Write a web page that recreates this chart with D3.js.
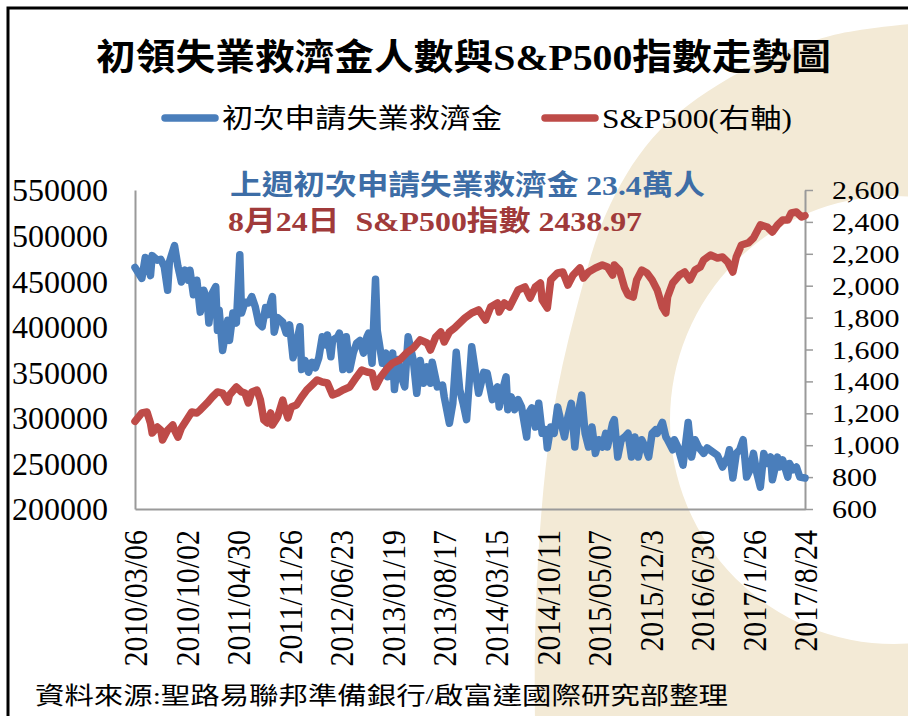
<!DOCTYPE html>
<html>
<head>
<meta charset="utf-8">
<script src="https://cdn.jsdelivr.net/npm/d3@7"></script>
<style>
html, body { margin: 0; padding: 0; background: #fff; }
svg { display: block; }
text { font-family: "Liberation Serif", "Times New Roman", "Noto Sans CJK TC", serif; }
</style>
</head>
<body>
<svg id="chart" width="908" height="716"></svg>
<script>
// weekly data, week 0 = 2010/03/06
const claimWeeks = [0,4,6,8,9,10,13,15,17,19,20,23,25,27,29,31,32,34,36,38,40,42,43,45,47,48,49,51,54,55,57,59,61,62,64,66,68,70,72,74,76,77,80,81,83,86,88,90,92,94,96,97,99,101,103,105,107,109,111,112,114,115,118,119,121,123,125,127,129,131,133,135,136,138,140,141,144,146,147,150,151,153,155,157,159,162,164,166,168,170,172,173,176,179,180,183,185,187,189,191,193,196,200,203,205,208,210,211,212,214,216,217,219,221,223,225,228,229,231,233,235,237,239,240,242,244,246,249,250,252,254,256,258,260,262,264,266,268,270,272,274,275,278,279,281,283,285,287,289,291,293,295,297,299,301,303,304,307,309,310,313,314,316,319,322,324,326,328,331,333,336,339,342,345,346,348,350,352,354,356,358,360,362,364,366,368,370,371,374,375,377,380,381,383,385,387,390];
const claims = [465000,453000,476000,466000,456000,478000,473000,474000,466000,440000,471000,489000,466000,449000,462000,451000,462000,435000,451000,416000,440000,429000,404000,437000,444000,396000,418000,374000,407000,385000,415000,404000,479000,415000,427000,426000,433000,422000,404000,400000,421000,413000,433000,394000,410000,405000,393000,402000,366000,382000,400000,353000,363000,350000,361000,355000,366000,389000,380000,391000,367000,385000,389000,393000,353000,389000,353000,371000,382000,385000,371000,389000,393000,360000,452000,396000,360000,371000,345000,371000,331000,364000,345000,334000,389000,363000,327000,363000,338000,356000,338000,361000,334000,336000,323000,294000,316000,372000,331000,316000,298000,378000,327000,350000,349000,320000,331000,334000,312000,331000,345000,309000,323000,309000,320000,312000,279000,305000,311000,290000,316000,283000,287000,267000,290000,283000,312000,287000,279000,301000,316000,268000,305000,325000,283000,268000,290000,261000,276000,268000,283000,268000,294000,298000,257000,276000,279000,283000,257000,279000,257000,276000,268000,257000,283000,287000,283000,295000,279000,276000,265000,276000,268000,248000,295000,257000,276000,268000,261000,267000,263000,259000,246000,257000,265000,234000,261000,265000,276000,235000,243000,261000,239000,224000,261000,250000,257000,232000,257000,246000,254000,235000,250000,243000,246000,235000,234000];

const spxWeeks = [0,4,7,9,10,13,15,16,19,22,23,25,27,30,33,36,38,42,45,48,51,54,55,59,62,64,66,68,71,73,75,77,79,80,83,86,87,89,91,94,97,100,103,106,109,112,115,118,121,125,129,132,135,138,140,143,147,150,154,158,162,166,170,172,175,178,180,183,186,189,192,196,200,204,207,211,212,215,218,223,227,230,233,236,237,240,242,246,249,252,255,259,261,264,268,272,275,278,279,282,285,287,290,292,295,298,301,304,307,309,310,313,317,320,323,326,329,331,335,339,342,345,348,350,353,357,360,364,368,371,374,377,380,382,385,388,390];
const spx = [1150,1202,1208,1139,1076,1114,1095,1033,1095,1127,1095,1051,1108,1158,1208,1202,1221,1265,1302,1334,1327,1271,1315,1365,1334,1327,1265,1334,1346,1283,1158,1139,1202,1127,1177,1283,1239,1171,1239,1252,1302,1346,1377,1409,1396,1390,1315,1327,1346,1365,1428,1471,1459,1453,1365,1428,1484,1515,1534,1578,1609,1660,1641,1597,1678,1710,1647,1710,1735,1766,1797,1829,1848,1785,1866,1892,1835,1892,1866,1973,1992,1923,1992,2017,1910,1860,2036,2080,2086,2004,2067,2111,2048,2086,2111,2130,2117,2067,2130,2098,1986,1942,1929,2036,2098,2080,2036,1973,1866,1829,1929,2017,2067,2086,2036,2098,2117,2161,2192,2174,2180,2149,2086,2180,2255,2268,2299,2381,2368,2337,2381,2412,2412,2456,2462,2431,2439];

const xTickWeeks = [0,30,60,90,120,150,180,210,240,270,300,330,360,390];
const xTickLabels = ["2010/03/06","2010/10/02","2011/04/30","2011/11/26","2012/06/23","2013/01/19","2013/08/17","2014/03/15","2014/10/11","2015/05/07","2015/12/3","2016/6/30","2017/1/26","2017/8/24"];
const leftTicks = [200000,250000,300000,350000,400000,450000,500000,550000];
const rightTicks = [600,800,1000,1200,1400,1600,1800,2000,2200,2400,2600];

const svg = d3.select("#chart"),
    width = +svg.attr("width"),
    height = +svg.attr("height");

const plot = { left: 135, right: 805, top: 190, bottom: 509 };
const blue = "#4A7EBB", red = "#BE4B48";

// background watermark (big beige arc behind the right half)
svg.append("rect").attr("width", width).attr("height", height).attr("fill", "#fff");
const arcEdge = [[912, 24], [830, 36], [740, 72], [660, 130], [610, 205], [576, 310], [552, 420], [540, 530], [535, 640], [535, 720]];
const outer = d3.line().curve(d3.curveCatmullRom)(arcEdge) + "L912,720Z";
const hole = d3.path();
hole.arc(894, 420, 224, 0, 2 * Math.PI);
svg.append("path")
    .attr("d", outer + hole.toString())
    .attr("fill-rule", "evenodd")
    .attr("fill", "#F3EAD6");

// frame
svg.append("path")
    .attr("d", `M8,${height} V8 H${width}`)
    .attr("fill", "none")
    .attr("stroke", "#000")
    .attr("stroke-width", 3);

const x = d3.scaleLinear().domain([0, 390]).range([plot.left, plot.right]);
const yL = d3.scaleLinear().domain([200000, 550000]).range([plot.bottom, plot.top]);
const yR = d3.scaleLinear().domain([600, 2600]).range([plot.bottom, plot.top]);

// axes
const axisGray = "#9A9A9A";
const leftAxis = svg.append("g")
    .attr("transform", `translate(${plot.left},0)`)
    .call(d3.axisLeft(yL).tickValues(leftTicks).tickSize(0).tickSizeOuter(0).tickPadding(27).tickFormat(d3.format("d")));
leftAxis.select(".domain").attr("stroke", axisGray).attr("stroke-width", 2);
leftAxis.selectAll("text").attr("font-size", 32).attr("fill", "#000").attr("dy", "0.34em");

const rightAxis = svg.append("g")
    .attr("transform", `translate(${plot.right},0)`)
    .call(d3.axisRight(yR).tickValues(rightTicks).tickSize(8).tickSizeOuter(0).tickPadding(19).tickFormat(d3.format(",")));
rightAxis.select(".domain").attr("stroke", axisGray).attr("stroke-width", 2);
rightAxis.selectAll("line").attr("stroke", axisGray).attr("stroke-width", 1.5);
rightAxis.selectAll("text")
    .attr("font-size", 25)
    .attr("fill", "#000")
    .attr("dy", "0.34em")
    .attr("x", 27 / 1.2)
    .attr("transform", "scale(1.2,1)");

const bottomAxis = svg.append("g")
    .attr("transform", `translate(0,${plot.bottom})`)
    .call(d3.axisBottom(x).tickValues(xTickWeeks).tickSize(0).tickSizeOuter(0).tickFormat((d, i) => xTickLabels[i]));
bottomAxis.select(".domain").attr("stroke", axisGray).attr("stroke-width", 2);
bottomAxis.selectAll("text")
    .attr("x", 0)
    .attr("y", 0)
    .attr("dy", "0.34em")
    .attr("text-anchor", "end")
    .attr("font-size", 30)
    .attr("fill", "#000")
    .attr("transform", "translate(0,21) scale(1.15,1) rotate(-90)");

// lines
const claimData = claimWeeks.map((w, i) => ({ week: w, value: claims[i] }));
const spxData = spxWeeks.map((w, i) => ({ week: w, value: spx[i] }));

svg.append("path")
    .datum(claimData)
    .attr("fill", "none")
    .attr("stroke", blue)
    .attr("stroke-width", 7.5)
    .attr("stroke-linejoin", "round")
    .attr("stroke-linecap", "round")
    .attr("d", d3.line().x(d => x(d.week)).y(d => yL(d.value)));

svg.append("path")
    .datum(spxData)
    .attr("fill", "none")
    .attr("stroke", red)
    .attr("stroke-width", 7.5)
    .attr("stroke-linejoin", "round")
    .attr("stroke-linecap", "round")
    .attr("d", d3.line().x(d => x(d.week)).y(d => yR(d.value)));

// title
svg.append("text")
    .attr("x", 96)
    .attr("y", 70)
    .attr("font-size", 36)
    .attr("font-weight", "bold")
    .attr("textLength", 735)
    .attr("lengthAdjust", "spacingAndGlyphs")
    .text("初領失業救濟金人數與S&P500指數走勢圖");

// legend
const legend = [
    { label: "初次申請失業救濟金", color: blue, x: 165, len: 280 },
    { label: "S&P500(右軸)", color: red, x: 545, len: 190 }
];
legend.forEach(l => {
    svg.append("line")
        .attr("x1", l.x).attr("x2", l.x + 50)
        .attr("y1", 118).attr("y2", 118)
        .attr("stroke", l.color)
        .attr("stroke-width", 7.5)
        .attr("stroke-linecap", "round");
    svg.append("text")
        .attr("x", l.x + 57)
        .attr("y", 128)
        .attr("font-size", 27)
        .attr("textLength", l.len)
        .attr("lengthAdjust", "spacingAndGlyphs")
        .text(l.label);
});

// annotations
svg.append("text")
    .attr("x", 230)
    .attr("y", 195)
    .attr("font-size", 28)
    .attr("font-weight", "bold")
    .attr("fill", "#3D6DA6")
    .attr("textLength", 475)
    .attr("lengthAdjust", "spacingAndGlyphs")
    .text("上週初次申請失業救濟金 23.4萬人");

svg.append("text")
    .attr("x", 228)
    .attr("y", 231)
    .attr("font-size", 28)
    .attr("font-weight", "bold")
    .attr("fill", "#A03A3A")
    .attr("textLength", 414)
    .attr("lengthAdjust", "spacingAndGlyphs")
    .attr("xml:space", "preserve")
    .text("8月24日  S&P500指數 2438.97");

// source
svg.append("text")
    .attr("x", 35)
    .attr("y", 704)
    .attr("font-size", 24)
    .attr("textLength", 693)
    .attr("lengthAdjust", "spacingAndGlyphs")
    .text("資料來源:聖路易聯邦準備銀行/啟富達國際研究部整理");
</script>
</body>
</html>
